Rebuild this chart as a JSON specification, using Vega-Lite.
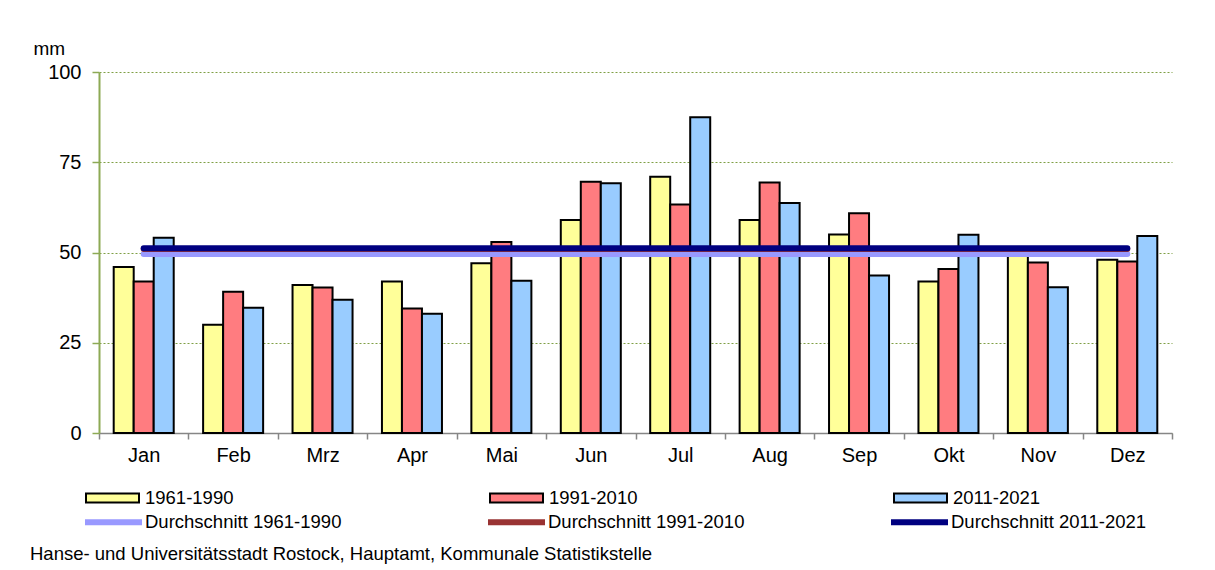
{
  "$schema": "https://vega.github.io/schema/vega-lite/v6.json",
  "width": 1073,
  "height": 361,
  "autosize": {"type": "none"},
  "padding": {"left": 99, "top": 72, "right": 43, "bottom": 137},
  "background": "white",
  "config": {"font": "Liberation Sans", "view": {"stroke": null}},
  "title": {
    "text": "Hanse- und Universitätsstadt Rostock, Hauptamt, Kommunale Statistikstelle",
    "orient": "bottom",
    "anchor": "start",
    "frame": "group",
    "fontSize": 18.5,
    "fontWeight": "normal",
    "color": "black",
    "offset": 10,
    "dx": -69
  },
  "datasets": {
    "bars": [
      {"month": "Jan", "period": "1961-1990", "value": 46},
      {"month": "Jan", "period": "1991-2010", "value": 42},
      {"month": "Jan", "period": "2011-2021", "value": 54.1},
      {"month": "Feb", "period": "1961-1990", "value": 30},
      {"month": "Feb", "period": "1991-2010", "value": 39.1},
      {"month": "Feb", "period": "2011-2021", "value": 34.7},
      {"month": "Mrz", "period": "1961-1990", "value": 41},
      {"month": "Mrz", "period": "1991-2010", "value": 40.3},
      {"month": "Mrz", "period": "2011-2021", "value": 36.9},
      {"month": "Apr", "period": "1961-1990", "value": 42},
      {"month": "Apr", "period": "1991-2010", "value": 34.5},
      {"month": "Apr", "period": "2011-2021", "value": 33},
      {"month": "Mai", "period": "1961-1990", "value": 47},
      {"month": "Mai", "period": "1991-2010", "value": 52.9},
      {"month": "Mai", "period": "2011-2021", "value": 42.2},
      {"month": "Jun", "period": "1961-1990", "value": 59},
      {"month": "Jun", "period": "1991-2010", "value": 69.6},
      {"month": "Jun", "period": "2011-2021", "value": 69.2},
      {"month": "Jul", "period": "1961-1990", "value": 71},
      {"month": "Jul", "period": "1991-2010", "value": 63.3},
      {"month": "Jul", "period": "2011-2021", "value": 87.5},
      {"month": "Aug", "period": "1961-1990", "value": 59},
      {"month": "Aug", "period": "1991-2010", "value": 69.4},
      {"month": "Aug", "period": "2011-2021", "value": 63.7},
      {"month": "Sep", "period": "1961-1990", "value": 55},
      {"month": "Sep", "period": "1991-2010", "value": 60.9},
      {"month": "Sep", "period": "2011-2021", "value": 43.6},
      {"month": "Okt", "period": "1961-1990", "value": 42},
      {"month": "Okt", "period": "1991-2010", "value": 45.4},
      {"month": "Okt", "period": "2011-2021", "value": 54.9},
      {"month": "Nov", "period": "1961-1990", "value": 50},
      {"month": "Nov", "period": "1991-2010", "value": 47.2},
      {"month": "Nov", "period": "2011-2021", "value": 40.4},
      {"month": "Dez", "period": "1961-1990", "value": 48},
      {"month": "Dez", "period": "1991-2010", "value": 47.5},
      {"month": "Dez", "period": "2011-2021", "value": 54.6}
    ],
    "avg": [
      {"month": "Jan", "series": "Durchschnitt 1961-1990", "value": 49.6},
      {"month": "Dez", "series": "Durchschnitt 1961-1990", "value": 49.6},
      {"month": "Jan", "series": "Durchschnitt 1991-2010", "value": 51.0},
      {"month": "Dez", "series": "Durchschnitt 1991-2010", "value": 51.0},
      {"month": "Jan", "series": "Durchschnitt 2011-2021", "value": 51.2},
      {"month": "Dez", "series": "Durchschnitt 2011-2021", "value": 51.2}
    ]
  },
  "layer": [
    {
      "data": {"name": "bars"},
      "mark": {"type": "bar", "stroke": "black", "strokeWidth": 2},
      "encoding": {
        "x": {
          "field": "month",
          "type": "nominal",
          "sort": ["Jan", "Feb", "Mrz", "Apr", "Mai", "Jun", "Jul", "Aug", "Sep", "Okt", "Nov", "Dez"],
          "scale": {"paddingInner": 0, "paddingOuter": 0},
          "axis": {
            "title": null,
            "labelAngle": 0,
            "labelFontSize": 20,
            "labelColor": "black",
            "labelPadding": 6,
            "domainColor": "#868686",
            "domainWidth": 1.5,
            "tickColor": "#868686",
            "tickWidth": 1.5,
            "tickSize": 6,
            "tickBand": "extent",
            "grid": false
          }
        },
        "xOffset": {
          "field": "period",
          "type": "nominal",
          "scale": {"paddingInner": 0, "paddingOuter": 0.735}
        },
        "y": {
          "field": "value",
          "type": "quantitative",
          "scale": {"domain": [0, 100], "nice": false},
          "axis": {
            "title": "mm",
            "titleAngle": 0,
            "titleAlign": "left",
            "titleBaseline": "alphabetic",
            "titleX": -66,
            "titleY": -18,
            "titleFontSize": 19,
            "titleFontWeight": "normal",
            "titleColor": "black",
            "values": [0, 25, 50, 75, 100],
            "labelFontSize": 20,
            "labelColor": "black",
            "labelPadding": 11,
            "tickSize": 7,
            "tickColor": "#8DAA55",
            "tickWidth": 1.5,
            "domainColor": "#8DAA55",
            "domainWidth": 2,
            "grid": true,
            "gridColor": "#7F9F45",
            "gridDash": [2, 2],
            "gridWidth": 1
          }
        },
        "fill": {
          "field": "period",
          "type": "nominal",
          "scale": {"domain": ["1961-1990", "1991-2010", "2011-2021"], "range": ["#FFFF99", "#FF7C80", "#99CCFF"]},
          "legend": {
            "title": null,
            "orient": "none",
            "legendX": -14,
            "legendY": 398.5,
            "direction": "horizontal",
            "columns": 3,
            "columnPadding": 252,
            "padding": 0,
            "symbolType": "M-1,-0.17H1V0.17H-1Z",
            "symbolSize": 2809,
            "symbolStrokeColor": "black",
            "symbolStrokeWidth": 2,
            "symbolOpacity": 1,
            "labelFontSize": 18.5,
            "labelColor": "black",
            "labelOffset": 5,
            "labelLimit": 400
          }
        }
      }
    },
    {
      "data": {"name": "avg"},
      "mark": {"type": "line", "strokeWidth": 6, "strokeCap": "round"},
      "encoding": {
        "x": {
          "field": "month",
          "type": "nominal",
          "sort": ["Jan", "Feb", "Mrz", "Apr", "Mai", "Jun", "Jul", "Aug", "Sep", "Okt", "Nov", "Dez"]
        },
        "y": {"field": "value", "type": "quantitative"},
        "stroke": {
          "field": "series",
          "type": "nominal",
          "scale": {
            "domain": ["Durchschnitt 1961-1990", "Durchschnitt 1991-2010", "Durchschnitt 2011-2021"],
            "range": ["#9999FF", "#993333", "#000080"]
          },
          "legend": {
            "title": null,
            "orient": "none",
            "legendX": -17,
            "legendY": 418.5,
            "direction": "horizontal",
            "columns": 3,
            "columnPadding": 134,
            "padding": 0,
            "symbolType": "stroke",
            "symbolSize": 3249,
            "symbolStrokeWidth": 6,
            "labelFontSize": 18.5,
            "labelColor": "black",
            "labelOffset": 0,
            "labelLimit": 400
          }
        }
      }
    }
  ]
}
